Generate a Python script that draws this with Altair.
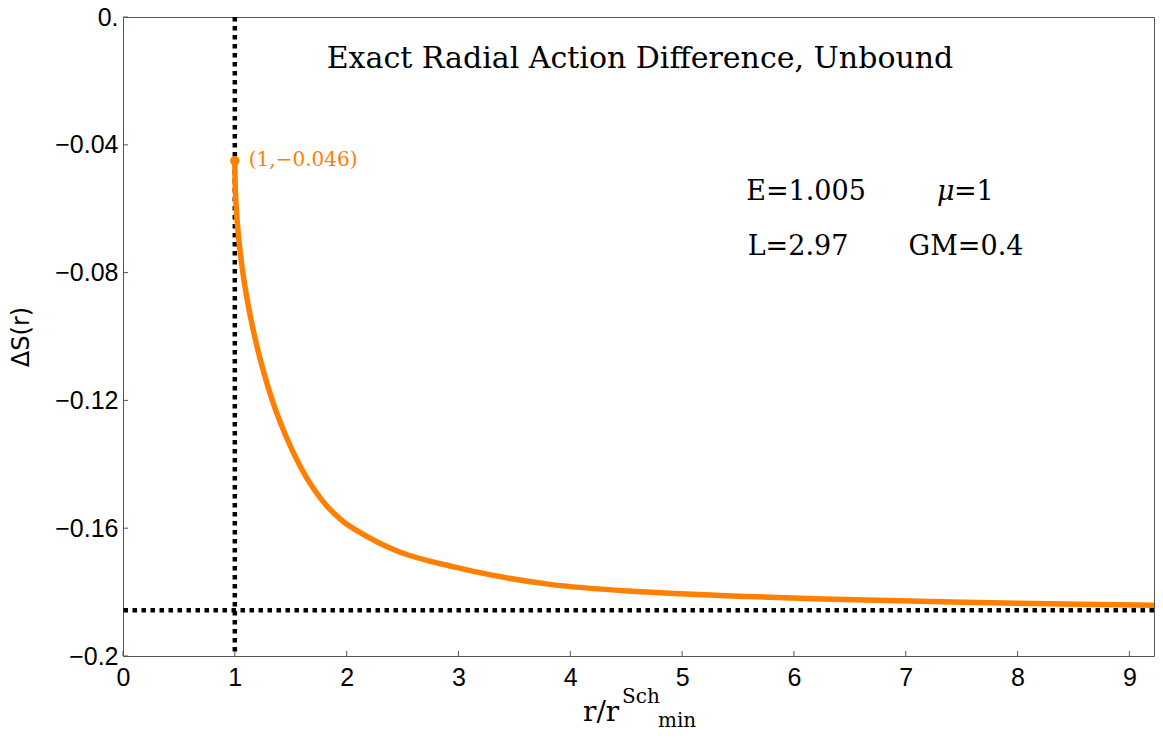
import altair as alt
import pandas as pd

# ---- data ----
curve_x = [1.0, 1.002, 1.01, 1.03, 1.06, 1.113, 1.173, 1.247, 1.336, 1.449,
           1.589, 1.781, 1.959, 2.137, 2.435, 2.969, 3.3, 3.8, 4.69, 5.58,
           6.45, 7.52, 8.4, 9.22]
curve_y = [-0.045, -0.051, -0.058, -0.0675, -0.077, -0.0889, -0.0993, -0.1097,
           -0.1201, -0.1305, -0.1409, -0.1513, -0.1576, -0.1617, -0.1669,
           -0.1722, -0.1747, -0.1775, -0.1800, -0.1814, -0.1823, -0.1832,
           -0.1837, -0.1841]
x_ticks = [0, 1, 2, 3, 4, 5, 6, 7, 8, 9]
y_ticks = [-0.2, -0.16, -0.12, -0.08, -0.04, 0.0]
vline_x = [1.0]
hline_y = [-0.1857]
point_x = [1.0]
point_y = [-0.045]
point_label = ["(1,\u22120.046)"]
title_text = "Exact Radial Action Difference, Unbound"
param_E = "E=1.005"
param_mu_sym = "\u03bc"
param_mu_val = "=1"
param_L = "L=2.97"
param_GM = "GM=0.4"

W, H = 1031, 639
ORANGE = "#FF8000"
SERIF = "DejaVu Serif"
SANS = "Liberation Sans"

xscale = alt.Scale(domain=[0, 9.22], nice=False, zero=False)
yscale = alt.Scale(domain=[-0.2, 0.0], nice=False, zero=False)

xaxis = alt.Axis(values=x_ticks, ticks=False, domain=False, grid=False,
                 labelFont=SANS, labelFontSize=25, labelColor="black",
                 labelPadding=9, title=None, labelFlush=False, format="d")
yaxis = alt.Axis(values=y_ticks, ticks=False, domain=False, grid=False,
                 labelFont=SANS, labelFontSize=25, labelColor="black",
                 labelPadding=5, title=None, labelFlush=False,
                 labelExpr="datum.value == 0 ? '0.' : format(datum.value, '.2~f')")

curve_df = pd.DataFrame({"x": curve_x, "y": curve_y})

curve = alt.Chart(curve_df).mark_line(color=ORANGE, strokeWidth=5.5,
                                      interpolate="monotone", clip=True).encode(
    x=alt.X("x:Q", scale=xscale, axis=xaxis),
    y=alt.Y("y:Q", scale=yscale, axis=yaxis),
)

vline = alt.Chart(pd.DataFrame({"x": vline_x})).mark_rule(
    color="black", strokeWidth=4.5, strokeDash=[4.5, 4.5]).encode(
    x=alt.X("x:Q", scale=xscale))
hline = alt.Chart(pd.DataFrame({"y": hline_y})).mark_rule(
    color="black", strokeWidth=4.5, strokeDash=[4.5, 4.5]).encode(
    y=alt.Y("y:Q", scale=yscale))

pt_df = pd.DataFrame({"x": point_x, "y": point_y, "t": point_label})
pt = alt.Chart(pt_df).mark_point(filled=True, color=ORANGE, size=90, opacity=1).encode(
    x=alt.X("x:Q", scale=xscale), y=alt.Y("y:Q", scale=yscale))
pt_text = alt.Chart(pt_df).mark_text(color=ORANGE, font=SERIF, fontSize=20,
                                     align="left", baseline="middle", dx=14, dy=-1).encode(
    x=alt.X("x:Q", scale=xscale), y=alt.Y("y:Q", scale=yscale), text="t:N")

# inward ticks
xt = alt.Chart(pd.DataFrame({"x": x_ticks})).mark_rule(color="#555", strokeWidth=1).encode(
    x=alt.X("x:Q", scale=xscale), y=alt.value(H), y2=alt.value(H - 5))
yt = alt.Chart(pd.DataFrame({"y": y_ticks})).mark_rule(color="#555", strokeWidth=1).encode(
    y=alt.Y("y:Q", scale=yscale), x=alt.value(0), x2=alt.value(5))


def label(txt, x, y, size, font=SERIF, align="center", angle=0,
          baseline="alphabetic", style="normal"):
    return alt.Chart(pd.DataFrame({"t": [txt]})).mark_text(
        font=font, fontSize=size, color="black", align=align,
        baseline=baseline, angle=angle, fontStyle=style).encode(
        x=alt.value(x), y=alt.value(y), text="t:N")


texts = [
    label(title_text, 517, 51, 30),
    label(param_E, 683, 183, 27),
    label(param_mu_sym, 814, 183, 27, align="left", style="italic"),
    label(param_mu_val, 831, 183, 27, align="left"),
    label(param_L, 675, 238, 27),
    label(param_GM, 843, 238, 27),
    # axis titles
    label("r/r", 460, 704, 28, align="left"),
    label("Sch", 499, 686, 20, align="left"),
    label("min", 535, 710, 20, align="left"),
    label("\u0394S(r)", -101, 320, 24, font="DejaVu Sans", angle=270, baseline="middle"),
]

chart = alt.layer(vline, hline, xt, yt, curve, pt, pt_text, *texts).properties(
    width=W, height=H,
    autosize=alt.AutoSizeParams(type="none"),
    padding={"left": 115, "top": 9, "right": 1, "bottom": 74},
).configure_view(stroke="#555", strokeWidth=1)

chart.save("out.html", embed_options={"renderer": "svg", "actions": False})
